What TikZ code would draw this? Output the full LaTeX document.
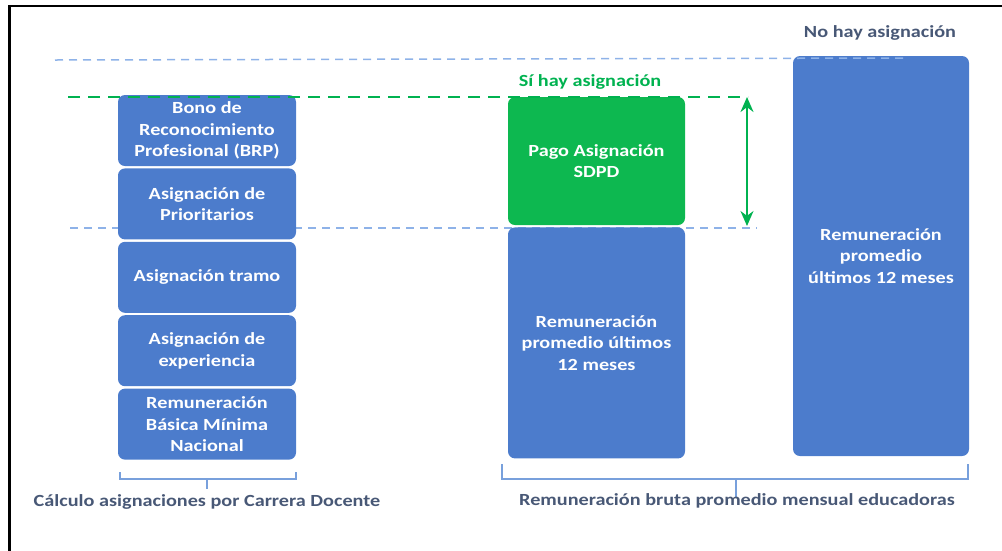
\documentclass[tikz,border=0pt]{standalone}
\usepackage{fontspec}
\setmainfont{Carlito}[FakeStretch=1.19]
\usetikzlibrary{positioning,arrows.meta}
\tikzset{>=stealth}
\definecolor{boxblue}{RGB}{76,124,204}
\definecolor{boxgreen}{RGB}{13,184,80}
\definecolor{dashblue}{RGB}{142,178,232}
\definecolor{brablue}{RGB}{120,160,220}
\definecolor{slate}{RGB}{72,88,118}
\definecolor{txtgreen}{RGB}{0,178,80}
\tikzset{
  bar/.style={fill=boxblue,rounded corners=7pt,inner sep=0pt,align=center,text=white,
    font=\bfseries\fontsize{17}{21.5}\selectfont},
  lbar/.style={bar,minimum width=178pt,minimum height=71pt},
  caption/.style={font=\bfseries\fontsize{17}{21.5}\selectfont,text=slate},
  level/.style={dashblue,line width=1.5pt,dash pattern=on 8pt off 6pt},
  bracket/.style={brablue,line width=1.5pt}
}

\begin{document}
\begin{tikzpicture}[x=1pt,y=-1pt]
\useasboundingbox (0,0) rectangle (1002,550);
\draw[line width=2.5pt] (9.5,552) -- (9.5,6) -- (1004,6);
% level of the base pay
\draw[level] (70,228) -- (757,228);
% left column: carrera docente
\node[lbar] (BRP) at (207,130.5) {Bono de\\Reconocimiento\\Profesional (BRP)};
\node[lbar,below=2pt of BRP] (PRI) {Asignación de\\Prioritarios};
\node[lbar,below=2pt of PRI] (TRA) {Asignación tramo};
\node[lbar,below=2pt of TRA] (EXP) {Asignación de\\experiencia};
\node[lbar,below=2pt of EXP] (RBMN) {Remuneración\\Básica Mínima\\Nacional};
% middle column
\node[bar,fill=boxgreen,minimum width=177pt,minimum height=128pt] (SDPD) at (596.5,161) {Pago Asignación\\SDPD};
\node[bar,minimum width=177pt,minimum height=231pt,below=2pt of SDPD] (REM) {Remuneración\\promedio últimos\\12 meses};
% right column
\node[bar,minimum width=176pt,minimum height=400pt] (REMN) at (881,256) {Remuneración\\promedio\\últimos 12 meses};
\draw[level] (55,60) -- (903,58);
\draw[txtgreen,line width=2pt,dash pattern=on 12pt off 8pt] (68,97) -- (748,97);
\coordinate (UP) at (747,97);
\coordinate (DN) at (747,226);
\draw[txtgreen,line width=2pt,{Stealth[length=15pt,width=13pt]}-{Stealth[length=15pt,width=13pt]}] (UP) -- (DN);
\node[caption] (NO) at (880,33) {No hay asignación};
\node[caption,text=txtgreen] (SI) at (590,82) {Sí hay asignación};
% brackets
\draw[bracket] (120,472) -- (120,479) -- (296,479) -- (296,472);
\draw[bracket] (207,479) -- (207,489);
\draw[bracket] (502,464) -- (502,479) -- (968,479) -- (968,464);
\draw[bracket] (736,479) -- (736,497);
\node[caption] (CD) at (207,502) {Cálculo asignaciones por Carrera Docente};
\node[caption] (RB) at (737,501) {Remuneración bruta promedio mensual educadoras};
\end{tikzpicture}
\end{document}
